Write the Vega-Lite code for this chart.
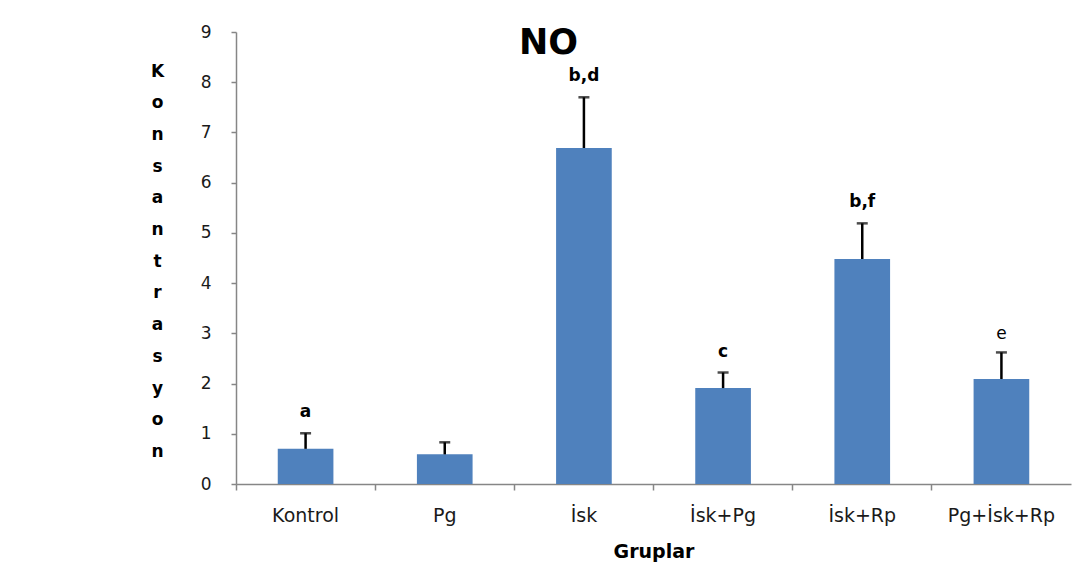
{
  "$schema": "https://vega.github.io/schema/vega-lite/v6.json",
  "autosize": {"type": "none"},
  "padding": {"left": 236, "top": 32, "right": 18, "bottom": 88},
  "width": 835,
  "height": 452,
  "background": "white",
  "title": {"text": "NO", "font": "DejaVu Sans", "fontSize": 35, "fontWeight": "bold", "color": "#000000", "anchor": "middle", "dx": -105, "offset": -26, "dy": 40, "baseline": "alphabetic"},
  "data": {"values": [
    {"grup": "Kontrol", "mean": 0.70, "upper": 1.01, "label": "a"},
    {"grup": "Pg", "mean": 0.59, "upper": 0.83, "label": ""},
    {"grup": "İsk", "mean": 6.69, "upper": 7.70, "label": "b,d"},
    {"grup": "İsk+Pg", "mean": 1.91, "upper": 2.22, "label": "c"},
    {"grup": "İsk+Rp", "mean": 4.48, "upper": 5.19, "label": "b,f"},
    {"grup": "Pg+İsk+Rp", "mean": 2.09, "upper": 2.62, "label": "e"}
  ]},
  "encoding": {
    "x": {"field": "grup", "type": "nominal", "sort": null,
          "scale": {"paddingInner": 0.6, "paddingOuter": 0.3},
          "axis": {"orient": "bottom", "bandPosition": -0.75, "ticks": true, "tickColor": "#868686", "tickSize": 6, "tickWidth": 1.5,
                   "domain": true, "domainColor": "#868686", "domainWidth": 1.5,
                   "labelAngle": 0, "labelFont": "DejaVu Sans", "labelFontSize": 19, "labelColor": "#1a1a1a", "labelPadding": 16,
                   "title": "Gruplar", "titleFont": "DejaVu Sans", "titleFontSize": 19, "titleFontWeight": "bold", "titleColor": "#000000", "titlePadding": 17}}
  },
  "layer": [
    {
      "mark": {"type": "bar", "color": "#4F81BD"},
      "encoding": {
        "y": {"field": "mean", "type": "quantitative",
              "scale": {"domain": [0, 9], "nice": false},
              "axis": {"values": [0, 1, 2, 3, 4, 5, 6, 7, 8, 9], "grid": false, "domainColor": "#868686", "domainWidth": 1.5,
                       "tickColor": "#868686", "tickSize": 5, "tickWidth": 1.5, "labelFont": "DejaVu Sans", "labelFontSize": 17, "labelColor": "#1a1a1a", "labelPadding": 20,
                       "title": ["K","o","n","s","a","n","t","r","a","s","y","o","n"],
                       "titleFont": "DejaVu Sans", "titleFontSize": 17, "titleFontWeight": "bold", "titleColor": "#000000",
                       "titleAngle": 0, "titleAlign": "center", "titleBaseline": "middle", "titleLineHeight": 31.7, "titleX": -79, "titleY": 39}}
      }
    },
    {
      "mark": {"type": "rule", "color": "#000000", "strokeWidth": 2.5},
      "encoding": {
        "y": {"field": "mean", "type": "quantitative"},
        "y2": {"field": "upper"}
      }
    },
    {
      "mark": {"type": "tick", "color": "#000000", "thickness": 2.5, "size": 11},
      "encoding": {
        "y": {"field": "upper", "type": "quantitative"}
      }
    },
    {
      "transform": [{"filter": "datum.label !== 'e'"}],
      "mark": {"type": "text", "font": "DejaVu Sans", "fontSize": 17, "fontWeight": "bold", "baseline": "middle", "align": "center", "dy": -21, "color": "#000000"},
      "encoding": {
        "y": {"field": "upper", "type": "quantitative"},
        "text": {"field": "label"}
      }
    },
    {
      "transform": [{"filter": "datum.label === 'e'"}],
      "mark": {"type": "text", "font": "DejaVu Sans", "fontSize": 17, "fontWeight": "normal", "baseline": "middle", "align": "center", "dy": -18, "color": "#000000"},
      "encoding": {
        "y": {"field": "upper", "type": "quantitative"},
        "text": {"field": "label"}
      }
    }
  ],
  "config": {"view": {"stroke": null}, "axis": {"labelFlush": false}}
}
